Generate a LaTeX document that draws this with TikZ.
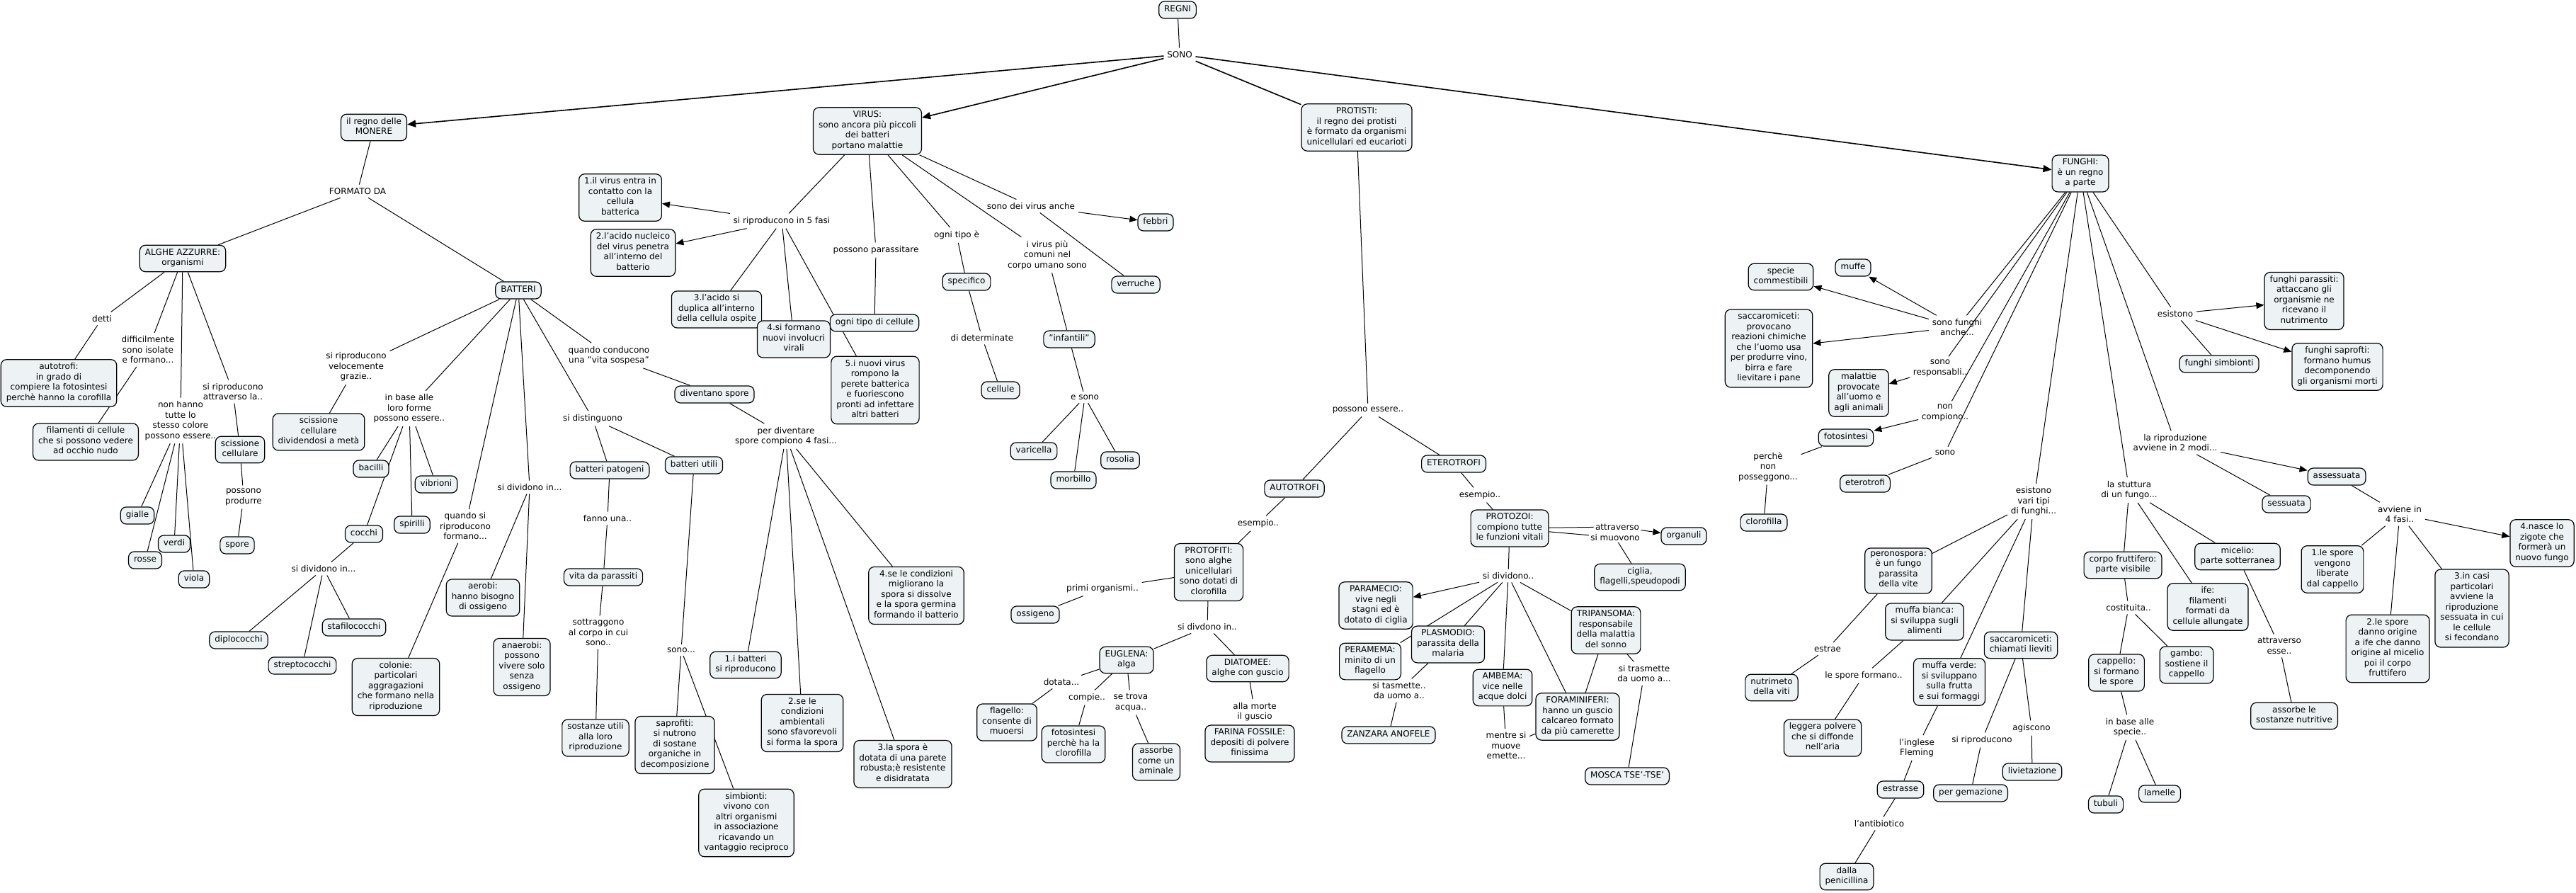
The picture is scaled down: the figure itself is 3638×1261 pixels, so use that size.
\documentclass[tikz,border=0pt]{standalone}
\usepackage{fontspec}
\setmainfont{DejaVu Sans}
\usetikzlibrary{arrows.meta,backgrounds}
\definecolor{boxfill}{RGB}{237,243,245}
\newcommand{\mapfont}{\fontsize{6pt}{7.25pt}\selectfont}
\tikzset{
  bx/.style={draw=black, line width=0.6pt, fill=boxfill, rounded corners=4pt, align=center, font=\mapfont,
    inner xsep=3.75pt, inner ysep=2.4pt, execute at begin node=\strut, execute at end node=\strut},
  lb/.style={align=center, font=\mapfont, inner sep=2.2pt},
  ln/.style={line width=0.5pt},
  ar/.style={line width=0.5pt, -{Triangle[length=5.5pt,width=4.5pt]}},
  mainln/.style={line width=0.8pt},
  mainar/.style={line width=0.8pt, -{Triangle[length=6pt,width=5pt]}}
}
\begin{document}
\begin{tikzpicture}[x=0.5pt,y={(0pt,-0.5pt)}]
\useasboundingbox (0,0) rectangle (3638,1261);
% ---------- top
\node[bx] (regni) at (1663,14) {REGNI};
\node[lb] (sono) at (1666,77) {SONO};
\node[bx] (monere) at (528,180) {il regno delle\\MONERE};
\node[bx] (virus) at (1225,185) {VIRUS:\\sono ancora più piccoli\\dei batteri\\portano malattie};
\node[bx] (protisti) at (1916,180) {PROTISTI:\\il regno dei protisti\\è formato da organismi\\unicellulari ed eucarioti};
\node[bx] (funghi) at (2938,245) {FUNGHI:\\è un regno\\a parte};
% ---------- monere
\node[lb] (formato) at (505,270) {FORMATO DA};
\node[bx] (alghe) at (258,365) {ALGHE AZZURRE:\\organismi};
\node[bx] (batteri) at (732,410) {BATTERI};
\node[lb] (detti) at (144,450) {detti};
\node[bx] (autotrofiA) at (83,541) {autotrofi:\\in grado di\\compiere la fotosintesi\\perchè hanno la corofilla};
\node[lb] (difficil) at (209,494) {difficilmente\\sono isolate\\e formano...};
\node[bx] (filamenti) at (121,624) {filamenti di cellule\\che si possono vedere\\ad occhio nudo};
\node[lb] (nonhanno) at (255,594) {non hanno\\tutte lo\\stesso colore\\possono essere..};
\node[bx] (gialle) at (194,728) {gialle};
\node[bx] (verdi) at (246,768) {verdi};
\node[bx] (rosse) at (205,791) {rosse};
\node[bx] (viola) at (274,818) {viola};
\node[lb] (siripA) at (329,553) {si riproducono\\attraverso la..};
\node[bx] (scissA) at (339,635) {scissione\\cellulare};
\node[lb] (posprod) at (344,702) {possono\\produrre};
\node[bx] (spore) at (335,770) {spore};
\node[lb] (siripvel) at (503,518) {si riproducono\\velocemente\\grazie..};
\node[bx] (scissB) at (450,610) {scissione\\cellulare\\dividendosi a metà};
\node[lb] (inbase) at (578,577) {in base alle\\loro forme\\possono essere..};
\node[bx] (bacilli) at (524,662) {bacilli};
\node[bx] (vibrioni) at (616,684) {vibrioni};
\node[bx] (spirilli) at (582,741) {spirilli};
\node[bx] (cocchi) at (514,754) {cocchi};
\node[lb] (sidivC) at (457,803) {si dividono in...};
\node[bx] (diplo) at (337,904) {diplococchi};
\node[bx] (strepto) at (427,940) {streptococchi};
\node[bx] (stafilo) at (500,886) {stafilococchi};
\node[lb] (quandosi) at (657,743) {quando si\\riproducono\\formano...};
\node[bx] (colonie) at (559,970) {colonie:\\particolari\\aggragazioni\\che formano nella\\riproduzione};
\node[lb] (sidivB) at (748,688) {si dividono in...};
\node[bx] (aerobi) at (682,844) {aerobi:\\hanno bisogno\\di ossigeno};
\node[bx] (anaerobi) at (737,942) {anaerobi:\\possono\\vivere solo\\senza\\ossigeno};
\node[lb] (sidist) at (837,591) {si distinguono};
\node[bx] (patogeni) at (861,664) {batteri patogeni};
\node[lb] (fanno) at (858,732) {fanno una..};
\node[bx] (vitapar) at (852,815) {vita da parassiti};
\node[lb] (sottrag) at (845,893) {sottraggono\\al corpo in cui\\sono..};
\node[bx] (sostanze) at (841,1042) {sostanze utili\\alla loro\\riproduzione};
\node[bx] (utili) at (980,657) {batteri utili};
\node[lb] (sonoU) at (962,918) {sono...};
\node[bx] (saprofiti) at (953,1052) {saprofiti:\\si nutrono\\di sostane\\organiche in\\decomposizione};
\node[bx] (simbionti) at (1054,1162) {simbionti:\\vivono con\\altri organismi\\in associazione\\ricavando un\\vantaggio reciproco};
\node[lb] (quandocond) at (860,502) {quando conducono\\una "vita sospesa"};
\node[bx] (divspore) at (1009,557) {diventano spore};
\node[lb] (perdiv) at (1110,616) {per diventare\\spore compiono 4 fasi...};
\node[bx] (f1) at (1053,939) {1.i batteri\\si riproducono};
\node[bx] (f2) at (1133,1021) {2.se le\\condizioni\\ambientali\\sono sfavorevoli\\si forma la spora};
\node[bx] (f3) at (1275,1079) {3.la spora è\\dotata di una parete\\robusta;è resistente\\e disidratata};
\node[bx] (f4) at (1294,841) {4.se le condizioni\\migliorano la\\spora si dissolve\\e la spora germina\\formando il batterio};
% ---------- virus
\node[lb] (sirip5) at (1104,312) {si riproducono in 5 fasi};
\node[bx] (v1) at (876,279) {1.il virus entra in\\contatto con la\\cellula\\batterica};
\node[bx] (v2) at (894,357) {2.l'acido nucleico\\del virus penetra\\all'interno del\\batterio};
\node[bx] (v3) at (1012,437) {3.l'acido si\\duplica all'interno\\della cellula ospite};
\node[bx] (v4) at (1121,479) {4.si formano\\nuovi involucri\\virali};
\node[bx] (v5) at (1236,551) {5.i nuovi virus\\rompono la\\perete batterica\\e fuoriescono\\pronti ad infettare\\altri batteri};
\node[lb] (pospar) at (1237,353) {possono parassitare};
\node[bx] (ognicell) at (1235,456) {ogni tipo di cellule};
\node[lb] (ognitipo) at (1351,332) {ogni tipo è};
\node[bx] (specifico) at (1365,398) {specifico};
\node[lb] (dideterm) at (1387,477) {di determinate};
\node[bx] (cellule) at (1413,551) {cellule};
\node[lb] (comuni) at (1479,360) {i virus più\\comuni nel\\corpo umano sono};
\node[bx] (infantili) at (1510,479) {"infantili"};
\node[lb] (esono) at (1532,561) {e sono};
\node[bx] (varicella) at (1460,637) {varicella};
\node[bx] (morbillo) at (1516,678) {morbillo};
\node[bx] (rosolia) at (1582,650) {rosolia};
\node[lb] (sonodei) at (1456,291) {sono dei virus anche};
\node[bx] (febbri) at (1632,314) {febbri};
\node[bx] (verruche) at (1604,402) {verruche};
% ---------- protisti
\node[lb] (posess) at (1932,579) {possono essere..};
\node[bx] (autotrofi) at (1828,690) {AUTOTROFI};
\node[bx] (eterotrofi) at (2053,655) {ETEROTROFI};
\node[lb] (esempioA) at (1777,739) {esempio..};
\node[bx] (protofiti) at (1707,808) {PROTOFITI:\\sono alghe\\unicellulari\\sono dotati di\\clorofilla};
\node[lb] (primi) at (1557,831) {primi organismi..};
\node[bx] (ossigeno) at (1462,868) {ossigeno};
\node[lb] (sidivdono) at (1705,885) {si divdono in..};
\node[bx] (euglena) at (1591,932) {EUGLENA:\\alga};
\node[bx] (diatomee) at (1762,944) {DIATOMEE:\\alghe con guscio};
\node[lb] (allamorte) at (1772,1005) {alla morte\\il guscio};
\node[bx] (farina) at (1765,1050) {FARINA FOSSILE:\\depositi di polvere\\finissima};
\node[lb] (dotata) at (1499,963) {dotata...};
\node[bx] (flagello) at (1422,1020) {flagello:\\consente di\\muoersi};
\node[lb] (compie) at (1535,985) {compie..};
\node[bx] (fotosint) at (1516,1051) {fotosintesi\\perchè ha la\\clorofilla};
\node[lb] (setrova) at (1597,992) {se trova\\acqua..};
\node[bx] (assorbeA) at (1633,1076) {assorbe\\come un\\aminale};
\node[lb] (esempioE) at (2090,699) {esempio..};
\node[bx] (protozoi) at (2132,746) {PROTOZOI:\\compiono tutte\\le funzioni vitali};
\node[lb, inner sep=1pt] (attraverso) at (2284,744) {attraverso};
\node[lb, inner sep=1pt] (simuovono) at (2281,759) {si muovono};
\node[bx] (organuli) at (2378,757) {organuli};
\node[bx] (ciglia) at (2316,815) {ciglia,\\flagelli,speudopodi};
\node[lb] (sidividonoP) at (2130,813) {si dividono..};
\node[bx] (paramecio) at (1943,855) {PARAMECIO:\\vive negli\\stagni ed è\\dotato di ciglia};
\node[bx] (plasmodio) at (2045,910) {PLASMODIO:\\parassita della\\malaria};
\node[bx] (peramema) at (1935,934) {PERAMEMA:\\minito di un\\flagello};
\node[lb] (sitasm) at (1976,975) {si tasmette..\\da uomo a..};
\node[bx] (zanzara) at (1961,1038) {ZANZARA ANOFELE};
\node[bx] (ambema) at (2122,971) {AMBEMA:\\vice nelle\\acque dolci};
\node[lb] (mentre) at (2127,1053) {mentre si\\muove\\emette...};
\node[bx] (forami) at (2228,1012) {FORAMINIFERI:\\hanno un guscio\\calcareo formato\\da più camerette};
\node[bx] (tripan) at (2268,890) {TRIPANSOMA:\\responsabile\\della malattia\\del sonno};
\node[lb] (sitrasm) at (2322,951) {si trasmette\\da uomo a...};
\node[bx] (mosca) at (2298,1096) {MOSCA TSE'-TSE'};
% ---------- funghi
\node[lb] (sonofa) at (2764,462) {sono funghi\\anche...};
\node[bx] (specie) at (2515,391) {specie\\commestibili};
\node[bx] (muffe) at (2617,378) {muffe};
\node[bx] (saccA) at (2498,492) {saccaromiceti:\\provocano\\reazioni chimiche\\che l'uomo usa\\per produrre vino,\\birra e fare\\lievitare i pane};
\node[lb] (sonoresp) at (2740,520) {sono\\responsabli..};
\node[bx] (malattie) at (2625,555) {malattie\\provocate\\all'uomo e\\agli animali};
\node[lb] (noncomp) at (2747,583) {non\\compiono..};
\node[bx] (fotosF) at (2607,618) {fotosintesi};
\node[lb] (sonoF) at (2747,639) {sono};
\node[bx] (eterotrofiF) at (2634,683) {eterotrofi};
\node[lb] (perche) at (2497,659) {perchè\\non\\posseggono...};
\node[bx] (clorofilla) at (2491,738) {clorofilla};
\node[lb] (esistono) at (3072,443) {esistono};
\node[bx] (parassiti) at (3254,425) {funghi parassiti:\\attaccano gli\\organismie ne\\ricevano il\\nutrimento};
\node[bx] (simbiontiF) at (3134,514) {funghi simbionti};
\node[bx] (saprofti) at (3301,518) {funghi saprofti:\\formano humus\\decomponendo\\gli organismi morti};
\node[lb] (riprod2) at (3072,625) {la riproduzione\\avviene in 2 modi...};
\node[bx] (assess) at (3300,673) {assessuata};
\node[bx] (sessuata) at (3229,712) {sessuata};
\node[lb] (avviene4) at (3389,726) {avviene in\\4 fasi..};
\node[bx] (s1) at (3294,804) {1.le spore\\vengono\\liberate\\dal cappello};
\node[bx] (s2) at (3372,916) {2.le spore\\danno origine\\a ife che danno\\origine al micelio\\poi il corpo\\fruttifero};
\node[bx] (s3) at (3491,859) {3.in casi\\particolari\\avviene la\\riproduzione\\sessuata in cui\\le cellule\\si fecondano};
\node[bx] (s4) at (3590,767) {4.nasce lo\\zigote che\\formerà un\\nuovo fungo};
\node[lb] (struttura) at (3007,692) {la stuttura\\di un fungo...};
\node[bx] (corpo) at (2998,798) {corpo fruttifero:\\parte visibile};
\node[bx] (micelio) at (3160,786) {micelio:\\parte sotterranea};
\node[bx] (ife) at (3118,857) {ife:\\filamenti\\formati da\\cellule allungate};
\node[lb] (attresse) at (3219,912) {attraverso\\esse..};
\node[bx] (assorbeF) at (3240,1011) {assorbe le\\sostanze nutritive};
\node[lb] (costituita) at (3006,858) {costituita..};
\node[bx] (cappello) at (2989,950) {cappello:\\si formano\\le spore};
\node[bx] (gambo) at (3088,939) {gambo:\\sostiene il\\cappello};
\node[lb] (inbasesp) at (3008,1027) {in base alle\\specie..};
\node[bx] (tubuli) at (2974,1136) {tubuli};
\node[bx] (lamelle) at (3050,1121) {lamelle};
\node[lb] (vari) at (2872,708) {esistono\\vari tipi\\di funghi...};
\node[bx] (perono) at (2681,806) {peronospora:\\è un fungo\\parassita\\della vite};
\node[bx] (bianca) at (2718,878) {muffa bianca:\\si sviluppa sugli\\alimenti};
\node[bx] (verde) at (2753,963) {muffa verde:\\si sviluppano\\sulla frutta\\e sui formaggi};
\node[bx] (saccL) at (2854,911) {saccaromiceti:\\chiamati lieviti};
\node[lb] (siripF) at (2799,1045) {si riproducono};
\node[bx] (gemaz) at (2783,1120) {per gemazione};
\node[lb] (agiscono) at (2869,1028) {agiscono};
\node[bx] (lievit) at (2870,1090) {livietazione};
\node[lb] (estrae) at (2581,916) {estrae};
\node[bx] (nutrimeto) at (2502,971) {nutrimeto\\della viti};
\node[lb] (sporeform) at (2632,954) {le spore formano..};
\node[bx] (leggera) at (2574,1042) {leggera polvere\\che si diffonde\\nell'aria};
\node[lb] (inglese) at (2707,1056) {l'inglese\\Fleming};
\node[bx] (estrasse) at (2684,1115) {estrasse};
\node[lb] (antibio) at (2654,1163) {l'antibiotico};
\node[bx] (penicillina) at (2608,1238) {dalla\\penicillina};

\begin{pgfonlayer}{background}
\fill[white] (0,0) rectangle (3638,1261);
% top
\draw[ln] (regni) -- (sono);
\draw[mainar] (sono) -- (monere);
\draw[mainar] (sono) -- (virus);
\draw[mainln] (sono) -- (protisti);
\draw[mainar] (sono) -- (funghi);
% monere
\draw[ln] (monere) -- (formato);
\draw[ln] (formato) -- (alghe);
\draw[ln] (formato) -- (batteri);
\draw[ln] (alghe) -- (detti) -- (autotrofiA);
\draw[ln] (alghe) -- (difficil) -- (filamenti);
\draw[ln] (alghe) -- (nonhanno);
\foreach \t in {gialle,verdi,rosse,viola} \draw[ln] (nonhanno) -- (\t);
\draw[ln] (alghe) -- (siripA) -- (scissA) -- (posprod) -- (spore);
\draw[ln] (batteri) -- (siripvel) -- (scissB);
\draw[ln] (batteri) -- (inbase);
\foreach \t in {bacilli,cocchi,spirilli,vibrioni} \draw[ln] (inbase) -- (\t);
\draw[ln] (cocchi) -- (sidivC);
\foreach \t in {diplo,strepto,stafilo} \draw[ln] (sidivC) -- (\t);
\draw[ln] (batteri) -- (quandosi) -- (colonie);
\draw[ln] (batteri) -- (sidivB);
\draw[ln] (sidivB) -- (aerobi);
\draw[ln] (sidivB) -- (anaerobi);
\draw[ln] (batteri) -- (sidist);
\draw[ln] (sidist) -- (patogeni);
\draw[ln] (sidist) -- (utili);
\draw[ln] (patogeni) -- (fanno) -- (vitapar) -- (sottrag) -- (sostanze);
\draw[ln] (utili) -- (sonoU);
\draw[ln] (sonoU) -- (saprofiti);
\draw[ln] (sonoU) -- (simbionti);
\draw[ln] (batteri) -- (quandocond) -- (divspore) -- (perdiv);
\foreach \t in {f1,f2,f3,f4} \draw[ln] (perdiv) -- (\t);
% virus
\draw[ln] (virus) -- (sirip5);
\draw[ar] (sirip5) -- (v1);
\draw[ar] (sirip5) -- (v2);
\foreach \t in {v3,v4,v5} \draw[ln] (sirip5) -- (\t);
\draw[ln] (virus) -- (pospar) -- (ognicell);
\draw[ln] (virus) -- (ognitipo) -- (specifico) -- (dideterm) -- (cellule);
\draw[ln] (virus) -- (comuni) -- (infantili) -- (esono);
\foreach \t in {varicella,morbillo,rosolia} \draw[ln] (esono) -- (\t);
\draw[ln] (virus) -- (sonodei);
\draw[ar] (sonodei) -- (febbri);
\draw[ln] (sonodei) -- (verruche);
% protisti
\draw[ln] (protisti) -- (posess);
\draw[ln] (posess) -- (autotrofi);
\draw[ln] (posess) -- (eterotrofi);
\draw[ln] (autotrofi) -- (esempioA) -- (protofiti);
\draw[ln] (protofiti) -- (primi) -- (ossigeno);
\draw[ln] (protofiti) -- (sidivdono);
\draw[ln] (sidivdono) -- (euglena);
\draw[ln] (sidivdono) -- (diatomee);
\draw[ln] (diatomee) -- (allamorte) -- (farina);
\draw[ln] (euglena) -- (dotata) -- (flagello);
\draw[ln] (euglena) -- (compie) -- (fotosint);
\draw[ln] (euglena) -- (setrova) -- (assorbeA);
\draw[ln] (eterotrofi) -- (esempioE) -- (protozoi);
\draw[ln] (protozoi) -- (attraverso);
\draw[ar] (attraverso) -- (organuli);
\draw[ln] (protozoi) -- (simuovono) -- (ciglia);
\draw[ln] (protozoi) -- (sidividonoP);
\draw[ar] (sidividonoP) -- (paramecio);
\foreach \t in {peramema,plasmodio,ambema,forami,tripan} \draw[ln] (sidividonoP) -- (\t);
\draw[ln] (plasmodio) -- (sitasm) -- (zanzara);
\draw[ln] (ambema) -- (mentre) -- (forami);
\draw[ln] (tripan) -- (forami);
\draw[ln] (tripan) -- (sitrasm) -- (mosca);
% funghi
\draw[ln] (funghi) -- (sonofa);
\draw[ar] (sonofa) -- (specie);
\draw[ar] (sonofa) -- (muffe);
\draw[ar] (sonofa) -- (saccA);
\draw[ln] (funghi) -- (sonoresp);
\draw[ar] (sonoresp) -- (malattie);
\draw[ln] (funghi) -- (noncomp);
\draw[ar] (noncomp) -- (fotosF);
\draw[ln] (funghi) -- (sonoF) -- (eterotrofiF);
\draw[ln] (fotosF) -- (perche) -- (clorofilla);
\draw[ln] (funghi) -- (esistono);
\draw[ar] (esistono) -- (parassiti);
\draw[ln] (esistono) -- (simbiontiF);
\draw[ar] (esistono) -- (saprofti);
\draw[ln] (funghi) -- (riprod2);
\draw[ar] (riprod2) -- (assess);
\draw[ln] (riprod2) -- (sessuata);
\draw[ln] (assess) -- (avviene4);
\draw[ar] (avviene4) -- (s4);
\foreach \t in {s1,s2,s3} \draw[ln] (avviene4) -- (\t);
\draw[ln] (funghi) -- (struttura);
\foreach \t in {corpo,ife,micelio} \draw[ln] (struttura) -- (\t);
\draw[ln] (micelio) -- (attresse) -- (assorbeF);
\draw[ln] (corpo) -- (costituita);
\draw[ln] (costituita) -- (cappello);
\draw[ln] (costituita) -- (gambo);
\draw[ln] (cappello) -- (inbasesp);
\draw[ln] (inbasesp) -- (tubuli);
\draw[ln] (inbasesp) -- (lamelle);
\draw[ln] (funghi) -- (vari);
\foreach \t in {perono,bianca,verde,saccL} \draw[ln] (vari) -- (\t);
\draw[ln] (saccL) -- (siripF) -- (gemaz);
\draw[ln] (saccL) -- (agiscono) -- (lievit);
\draw[ln] (perono) -- (estrae) -- (nutrimeto);
\draw[ln] (bianca) -- (sporeform) -- (leggera);
\draw[ln] (verde) -- (inglese) -- (estrasse) -- (antibio) -- (penicillina);
\end{pgfonlayer}
\end{tikzpicture}
\end{document}
